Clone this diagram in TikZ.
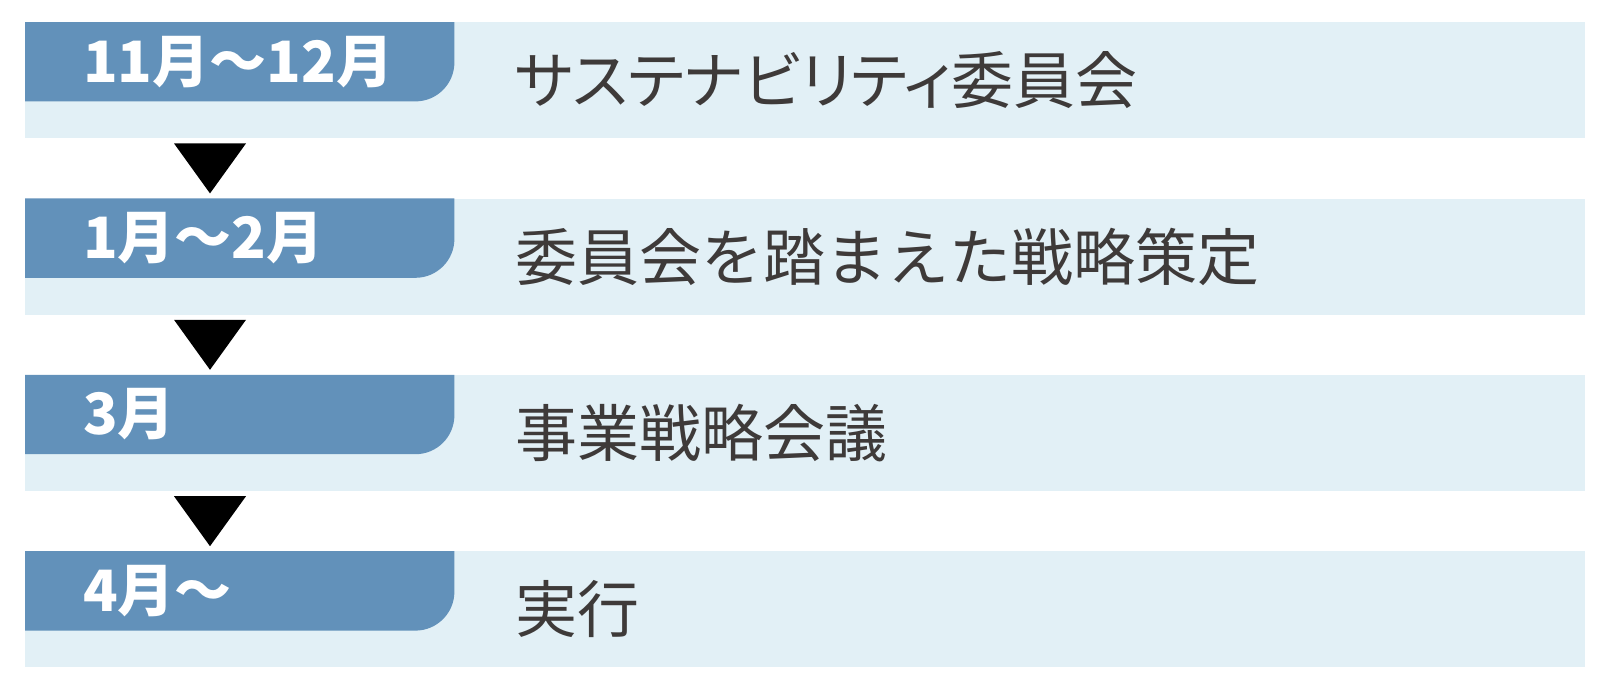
\documentclass[tikz,border=0pt]{standalone}
\usepackage{fontspec}
\newfontfamily\jpfont{Noto Sans CJK JP}
\newfontfamily\jppropfont{Noto Sans CJK JP}[RawFeature=+palt]
\usetikzlibrary{positioning}
\definecolor{tabblue}{HTML}{6291BA}
\definecolor{bandblue}{HTML}{E2F0F6}
\definecolor{textgray}{HTML}{3E3A39}

\begin{document}
\begin{tikzpicture}
			[x=1pt,y=-1pt,
			 band/.style={rectangle,fill=bandblue,draw=none,inner sep=0,
			   minimum width=1560pt,minimum height=116pt},
			 tab/.style={rectangle,draw=none,inner sep=0,anchor=north west,
			   minimum width=429pt,minimum height=79pt},
			 tablabel/.style={anchor=west,inner sep=0,text=white,
			   font=\jpfont\bfseries\fontsize{57}{60}\selectfont},
			 steptext/.style={anchor=west,inner sep=0,text=textgray,
			   font=\jpfont\fontsize{62}{68}\selectfont},
			 tabfill/.style={fill=tabblue},
			 down/.style={fill=black},
			 node distance=60pt]
			\useasboundingbox (0,0) rectangle (1616,697);

			\node (b1) [band,anchor=north west] at (25,22) {};
			\node (b2) [band,below=of b1] {};
			\node (b3) [band,below=of b2] {};
			\node (b4) [band,below=of b3] {};

			\node (t1) [tab] at (b1.north west) {};
			\node (t2) [tab] at (b2.north west) {};
			\node (t3) [tab] at (b3.north west) {};
			\node (t4) [tab] at (b4.north west) {};
			\fill [tabfill] (t1.north west) -- (t1.north east) -- ([yshift=39pt]t1.south east)
			  arc [start angle=0,end angle=-90,radius=39pt] -- (t1.south west) -- cycle;
			\fill [tabfill] (t2.north west) -- (t2.north east) -- ([yshift=39pt]t2.south east)
			  arc [start angle=0,end angle=-90,radius=39pt] -- (t2.south west) -- cycle;
			\fill [tabfill] (t3.north west) -- (t3.north east) -- ([yshift=39pt]t3.south east)
			  arc [start angle=0,end angle=-90,radius=39pt] -- (t3.south west) -- cycle;
			\fill [tabfill] (t4.north west) -- (t4.north east) -- ([yshift=39pt]t4.south east)
			  arc [start angle=0,end angle=-90,radius=39pt] -- (t4.south west) -- cycle;

			\node (l1) [tablabel] at ([xshift=58pt]t1.west) {11月〜12月};
			\node (l2) [tablabel] at ([xshift=58pt]t2.west) {1月〜2月};
			\node (l3) [tablabel] at ([xshift=58pt]t3.west) {3月};
			\node (l4) [tablabel] at ([xshift=58pt]t4.west) {4月〜};

			\node (s1) [steptext,font=\jppropfont\fontsize{62}{68}\selectfont]
			  at ([xshift=490pt]b1.west) {サステナビリティ委員会};
			\node (s2) [steptext] at ([xshift=490pt]b2.west) {委員会を踏まえた戦略策定};
			\node (s3) [steptext] at ([xshift=490pt]b3.west) {事業戦略会議};
			\node (s4) [steptext] at ([xshift=490pt]b4.west) {実行};

			% arrows between the rows
			\fill [down] ([xshift=149pt,yshift=-5pt]b1.south west) -- ++(72pt,0) -- ++(-36pt,-50pt) -- cycle;
			\fill [down] ([xshift=149pt,yshift=-5pt]b2.south west) -- ++(72pt,0) -- ++(-36pt,-50pt) -- cycle;
			\fill [down] ([xshift=149pt,yshift=-5pt]b3.south west) -- ++(72pt,0) -- ++(-36pt,-50pt) -- cycle;
		\end{tikzpicture}
\end{document}
